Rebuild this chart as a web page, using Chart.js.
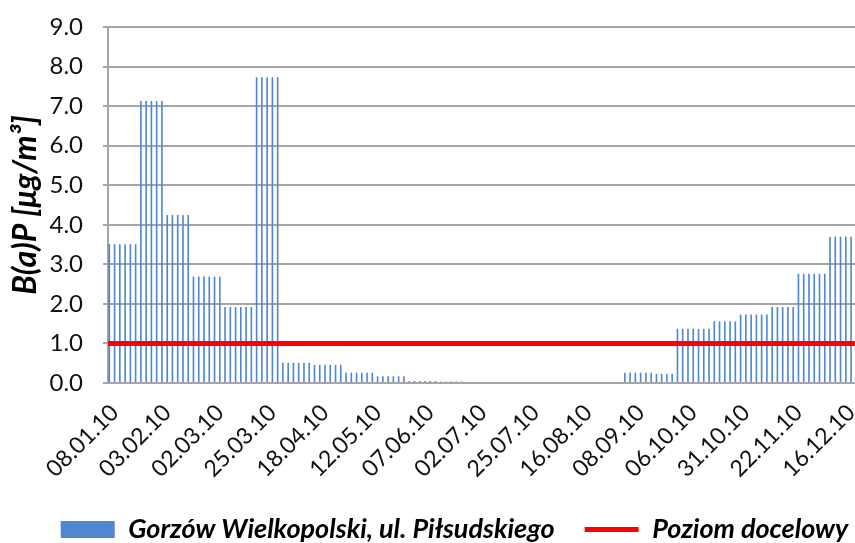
<!DOCTYPE html>
<html>
<head>
<meta charset="utf-8">
<script src="https://cdn.jsdelivr.net/npm/chart.js@4/dist/chart.umd.min.js"></script>
<style>
  html, body { margin: 0; padding: 0; background: #fff; }
  #wrap { width: 855px; height: 543px; }
</style>
</head>
<body>
<div id="wrap"><canvas id="canv" width="855" height="543"></canvas></div>
<script>
// every 10th sample gets a date label on the axis
const tickLabels = [
    '08.01.10', '03.02.10', '02.03.10', '25.03.10', '18.04.10',
    '12.05.10', '07.06.10', '02.07.10', '25.07.10', '16.08.10',
    '08.09.10', '06.10.10', '31.10.10', '22.11.10', '16.12.10'
];

const seriesName = 'Gorzów Wielkopolski, ul. Piłsudskiego';
const targetName = 'Poziom docelowy';
const targetLevel = 1.0;

// B(a)P per sample in µg/m3
const bapValues = [
    3.51, 3.51, 3.51, 3.51, 3.51, 3.51,
    7.13, 7.13, 7.13, 7.13, 7.13,
    4.25, 4.25, 4.25, 4.25, 4.25,
    2.69, 2.69, 2.69, 2.69, 2.69, 2.69,
    1.92, 1.92, 1.92, 1.92, 1.92, 1.92,
    7.73, 7.73, 7.73, 7.73, 7.73,
    0.51, 0.51, 0.51, 0.51, 0.51, 0.51,
    0.46, 0.46, 0.46, 0.46, 0.46, 0.46,
    0.26, 0.26, 0.26, 0.26, 0.26, 0.26,
    0.17, 0.17, 0.17, 0.17, 0.17, 0.17,
    0.05, 0.05, 0.05, 0.05, 0.05, 0.05,
    0.04, 0.04, 0.04, 0.04, 0.04,
    0, 0, 0, 0, 0, 0, 0, 0, 0, 0,
    0, 0, 0, 0, 0, 0, 0, 0, 0, 0,
    0, 0, 0, 0, 0, 0, 0, 0, 0, 0,
    0.26, 0.26, 0.26, 0.26, 0.26, 0.26,
    0.23, 0.23, 0.23, 0.23,
    1.37, 1.37, 1.37, 1.37, 1.37, 1.37, 1.37,
    1.56, 1.56, 1.56, 1.56, 1.56,
    1.73, 1.73, 1.73, 1.73, 1.73, 1.73,
    1.92, 1.92, 1.92, 1.92, 1.92,
    2.76, 2.76, 2.76, 2.76, 2.76, 2.76,
    3.70, 3.70, 3.70, 3.70, 3.70
];

const categories = bapValues.map((v, i) => (i % 10 === 0 ? tickLabels[i / 10] : ''));
const n = categories.length;

const gridColor = '#a6a6a6';

// legend in the original sits a bit right of centre
const legendNudge = {
    id: 'legendNudge',
    afterLayout(chart) {
        chart.legend.left += 27;
        chart.legend.right += 27;
    }
};

let ctx = document.getElementById('canv').getContext('2d');

let chart = new Chart(ctx, {
    plugins: [legendNudge],
    data: {
        labels: categories,
        datasets: [
            {
                type: 'bar',
                label: seriesName,
                data: bapValues,
                backgroundColor: '#4f87d4',
                borderWidth: 0,
                barPercentage: 0.62,
                categoryPercentage: 1.0,
                pointStyle: 'rect',
                order: 2
            },
            {
                type: 'line',
                label: targetName,
                xAxisID: 'x2',
                data: [{x: -0.5, y: targetLevel}, {x: n - 0.5, y: targetLevel}],
                borderColor: '#ff0000',
                backgroundColor: '#ff0000',
                borderWidth: 5,
                pointRadius: 0,
                pointStyle: 'line',
                order: 1
            }
        ]
    },
    options: {
        responsive: false,
        animation: false,
        layout: { padding: { top: 27, left: 0, right: 0, bottom: -10 } },
        plugins: {
            tooltip: { enabled: false },
            legend: {
                position: 'bottom',
                labels: {
                    usePointStyle: true,
                    pointStyleWidth: 54,
                    boxHeight: 17,
                    padding: 30,
                    color: '#000',
                    sort: (a, b) => a.datasetIndex - b.datasetIndex,
                    font: { family: 'Lato', size: 27, style: 'italic', weight: 'bold' }
                }
            }
        },
        scales: {
            x: {
                type: 'category',
                offset: true,
                grid: { display: false },
                border: { display: true, color: gridColor, width: 2 },
                ticks: {
                    autoSkip: false,
                    minRotation: 45,
                    maxRotation: 45,
                    padding: 8,
                    labelOffset: 4,
                    color: '#111',
                    font: { family: 'Lato', size: 23 }
                },
                afterFit: s => { s.paddingLeft = 0; s.paddingRight = 0; s.height = 103; }
            },
            x2: {
                type: 'linear',
                display: false,
                min: -0.5,
                max: n - 0.5
            },
            y: {
                min: 0,
                max: 9,
                grid: { color: gridColor, lineWidth: 2, tickLength: 5 },
                border: { display: true, color: gridColor, width: 2 },
                ticks: {
                    stepSize: 1,
                    autoSkip: false,
                    padding: 20,
                    color: '#111',
                    font: { family: 'Lato', size: 24 },
                    callback: v => v.toFixed(1)
                },
                title: {
                    display: true,
                    text: 'B(a)P [μg/m³]',
                    color: '#000',
                    padding: { top: 6, bottom: 0 },
                    font: { family: 'Lato', size: 32, style: 'italic', weight: 'bold' }
                },
                afterFit: s => { s.width = 108; s.paddingTop = 0; s.paddingBottom = 0; }
            }
        }
    }
});
</script>
</body>
</html>
